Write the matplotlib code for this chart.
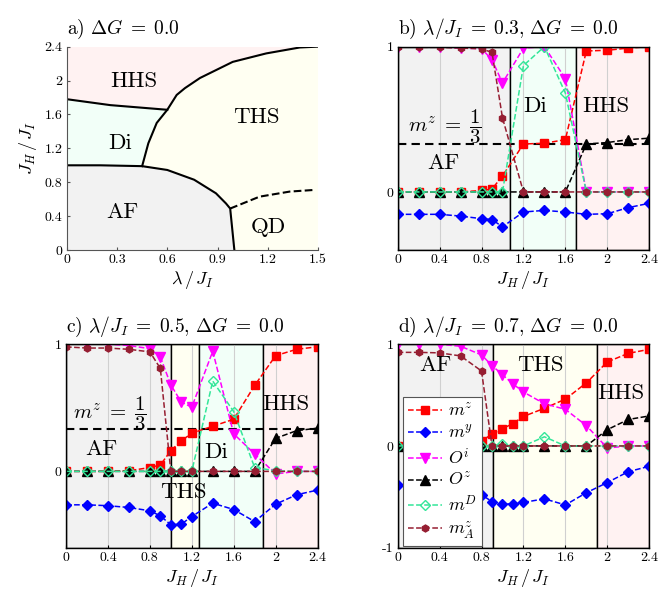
import matplotlib
matplotlib.use("Agg")
import matplotlib.pyplot as plt
import numpy as np

plt.rcParams["font.family"] = "serif"
plt.rcParams["font.serif"] = ["cmr10"]
plt.rcParams["mathtext.fontset"] = "cm"
plt.rcParams["axes.unicode_minus"] = False
plt.rcParams["axes.formatter.use_mathtext"] = True

PHASE_COLORS = {"AF": "#f2f2f2", "Di": "#f2fff8", "THS": "#fffff2", "HHS": "#fff2f2"}

# ---- panel a: phase diagram boundaries (lambda/J_I, J_H/J_I)
af_lam = [0.0, 0.2, 0.45, 0.6, 0.76, 0.89, 0.95, 0.975, 1.0]
af_jh = [1.0, 1.0, 0.99, 0.945, 0.83, 0.67, 0.55, 0.49, 0.0]
ths_lam = [0.45, 0.487, 0.537, 0.6, 0.656, 0.705, 0.795, 0.99, 1.19, 1.39, 1.5]
ths_jh = [0.99, 1.26, 1.50, 1.655, 1.83, 1.91, 2.03, 2.22, 2.32, 2.39, 2.4]
hhs_lam = [0.0, 0.26, 0.6]
hhs_jh = [1.78, 1.71, 1.655]
qd_lam = [0.975, 1.15, 1.33, 1.48]
qd_jh = [0.49, 0.63, 0.69, 0.71]

# ---- panel b: lambda/J_I = 0.3
jh_b = [0, 0.2, 0.4, 0.6, 0.8, 0.9, 1.0, 1.2, 1.4, 1.6, 1.8, 2.0, 2.2, 2.4]
mz_b = [0, 0, 0, 0, 0.01, 0.02, 0.11, 0.33, 0.335, 0.36, 0.97, 0.975, 0.99, 1.0]
my_b = [-0.154, -0.154, -0.154, -0.166, -0.184, -0.19, -0.24, -0.138, -0.127,
        -0.138, -0.154, -0.15, -0.108, -0.078]
oi_b = [1.0, 1.0, 1.0, 0.99, 0.986, 0.91, 0.75, 0.99, 1.0, 0.78, 0, 0, 0, 0]
oz_b = [0, 0, 0, 0, 0, 0, 0, 0, 0, 0, 0.33, 0.34, 0.36, 0.37]
md_b = [0, 0, 0, 0, 0, 0, 0, 0.87, 1.0, 0.68, 0, 0, 0, 0]
mza_b = [1.0, 0.995, 0.995, 0.99, 0.985, 0.96, 0.51, 0, 0, 0, 0, 0, 0, 0]
bounds_b = [0, 1.074, 1.705, 2.4]
phases_b = ["AF", "Di", "HHS"]

# ---- panel c: lambda/J_I = 0.5
jh_c = [0, 0.2, 0.4, 0.6, 0.8, 0.9, 1.0, 1.1, 1.2, 1.4, 1.6, 1.8, 2.0, 2.2, 2.4]
mz_c = [0, 0, 0, 0.005, 0.03, 0.05, 0.163, 0.24, 0.30, 0.355, 0.41, 0.676, 0.91, 0.96, 0.98]
my_c = [-0.263, -0.263, -0.27, -0.284, -0.31, -0.35, -0.42, -0.415, -0.355, -0.25,
        -0.30, -0.395, -0.258, -0.184, -0.147]
oi_c = [1.0, 1.0, 1.0, 0.99, 0.965, 0.9, 0.68, 0.545, 0.505, 0.945, 0.295, 0.137, -0.02, 0, 0]
oz_c = [0, 0, 0, 0, 0, 0, 0, 0, 0, 0, 0, 0, 0.26, 0.32, 0.34]
md_c = [0, 0, 0, 0, 0, 0, 0, 0, 0, 0.71, 0.47, 0.03, 0.005, 0, 0]
mza_c = [0.979, 0.97, 0.97, 0.96, 0.94, 0.81, 0, 0, 0, 0, 0, 0, 0, 0, 0]
bounds_c = [0, 1.0, 1.272, 1.875, 2.4]
phases_c = ["AF", "THS", "Di", "HHS"]

# ---- panel d: lambda/J_I = 0.7
jh_d = [0, 0.2, 0.4, 0.6, 0.8, 0.9, 1.0, 1.1, 1.2, 1.4, 1.6, 1.8, 2.0, 2.2, 2.4]
mz_d = [0, 0, 0, 0, 0.05, 0.115, 0.17, 0.22, 0.29, 0.37, 0.46, 0.62, 0.826, 0.91, 0.95]
my_d = [-0.38, -0.385, -0.39, -0.40, -0.48, -0.547, -0.57, -0.57, -0.555, -0.52,
        -0.58, -0.46, -0.36, -0.253, -0.20]
oi_d = [1.0, 1.0, 1.0, 0.98, 0.895, 0.79, 0.70, 0.61, 0.53, 0.415, 0.36, 0.20, -0.02, 0, 0]
oz_d = [0, 0, 0, 0, 0, 0, 0, 0, 0, 0, 0, 0, 0.16, 0.26, 0.295]
md_d = [0, 0, 0, 0, 0, 0, 0.02, 0, 0, 0.09, 0, 0, 0, 0, 0]
mza_d = [0.92, 0.92, 0.915, 0.885, 0.737, 0, 0, 0, 0, 0, 0, 0, 0, 0, 0]
bounds_d = [0, 0.905, 1.9, 2.4]
phases_d = ["AF", "THS", "HHS"]

labels = [r"$m^z$", r"$m^y$", r"$O^i$", r"$O^z$", r"$m^D$", r"$m^z_A$"]
styles = [
    dict(color="#ff0000", marker="s", ms=5.5, mfc="#ff0000"),
    dict(color="#0000ff", marker="D", ms=5.5, mfc="#0000ff"),
    dict(color="#ff00ff", marker="v", ms=7.5, mfc="#ff00ff"),
    dict(color="#000000", marker="^", ms=6.5, mfc="#000000"),
    dict(color="#33e699", marker="D", ms=5.5, mfc="none", mew=1.0),
    dict(color="#961e32", marker="h", ms=5.0, mfc="#961e32"),
]
PHASE_FS = 16.5


def profile_panel(ax, jh, series, bounds, phases, ylim, yticks, ytlabels, title, third=True):
    for x0, x1, ph in zip(bounds[:-1], bounds[1:], phases):
        ax.axvspan(x0, x1, facecolor=PHASE_COLORS[ph], edgecolor="k", lw=1.0, zorder=0.5)
    ax.grid(axis="x", color="#d0d0d0", lw=0.8)
    if third:
        ax.axhline(1 / 3, color="k", ls="--", lw=1.5, dashes=(4, 2.5), zorder=1.8)
    for vals, lab, st in zip(series, labels, styles):
        ax.plot(jh, vals, ls="--", lw=1.1, label=lab, **st)
    ax.set_xlim(0, 2.4)
    ax.set_ylim(*ylim)
    ax.set_xticks([0, 0.4, 0.8, 1.2, 1.6, 2.0, 2.4], ["0", "0.4", "0.8", "1.2", "1.6", "2", "2.4"])
    ax.set_yticks(yticks, ytlabels)
    ax.tick_params(direction="in", length=2.5, labelsize=10, pad=3)
    for sp in ax.spines.values():
        sp.set_color("k")
        sp.set_linewidth(1.0)
    ax.set_xlabel(r"$J_H\,/\,J_I$", fontsize=13, labelpad=2)
    ax.set_title(title, loc="left", fontsize=14, pad=9)


fig = plt.figure(figsize=(6.62, 5.94), dpi=100)
w, h = 0.38, 0.3425
ax_a = fig.add_axes([0.1007, 0.579, w, h])
ax_b = fig.add_axes([0.6007, 0.579, w, h])
ax_c = fig.add_axes([0.0997, 0.078, w, h])
ax_d = fig.add_axes([0.6007, 0.078, w, h])

# panel a
ax_a.set_facecolor(PHASE_COLORS["THS"])
ax_a.fill(af_lam + [0.0], af_jh + [0.0], color=PHASE_COLORS["AF"], lw=0)
k = ths_lam.index(0.6)
ax_a.fill(af_lam[:3] + ths_lam[1:k + 1] + hhs_lam[::-1],
          af_jh[:3] + ths_jh[1:k + 1] + hhs_jh[::-1], color=PHASE_COLORS["Di"], lw=0)
ax_a.fill(hhs_lam + ths_lam[k + 1:] + [0.0],
          hhs_jh + ths_jh[k + 1:] + [2.4], color=PHASE_COLORS["HHS"], lw=0)
ax_a.plot(af_lam, af_jh, "k-", lw=1.5)
ax_a.plot(ths_lam, ths_jh, "k-", lw=1.5)
ax_a.plot(hhs_lam, hhs_jh, "k-", lw=1.5)
ax_a.plot(qd_lam, qd_jh, "k--", lw=1.5)
ax_a.set_xlim(0, 1.5)
ax_a.set_ylim(0, 2.4)
ax_a.set_xticks([0, 0.3, 0.6, 0.9, 1.2, 1.5], ["0", "0.3", "0.6", "0.9", "1.2", "1.5"])
ax_a.set_yticks([0, 0.4, 0.8, 1.2, 1.6, 2.0, 2.4], ["0", "0.4", "0.8", "1.2", "1.6", "2", "2.4"])
ax_a.tick_params(direction="in", length=2.5, labelsize=10, pad=3, color="#555555")
ax_a.spines["top"].set_visible(False)
ax_a.spines["right"].set_visible(False)
ax_a.spines["left"].set_color("#555555")
ax_a.spines["bottom"].set_color("#555555")
ax_a.set_xlabel(r"$\lambda\,/\,J_I$", fontsize=13, labelpad=2)
ax_a.set_ylabel(r"$J_H\,/\,J_I$", fontsize=13, labelpad=4)
ax_a.set_title(r"a) $\Delta G\;=\;0.0$", loc="left", fontsize=14, pad=9)
for txt, x, y in [("HHS", 0.40, 1.99), ("Di", 0.32, 1.26), ("THS", 1.13, 1.57),
                  ("AF", 0.33, 0.45), ("QD", 1.2, 0.275)]:
    ax_a.text(x, y, txt, fontsize=PHASE_FS, ha="center", va="center")

frac = r"$m^z\;=\;\dfrac{1}{3}$"

# panel b
profile_panel(ax_b, jh_b, [mz_b, my_b, oi_b, oz_b, md_b, mza_b], bounds_b, phases_b,
              (-0.4, 1.0), [0, 1], ["0", "1"], r"b) $\lambda/J_I\;=\;0.3,\,\Delta G\;=\;0.0$")
ax_b.text(0.1, 0.45, frac, fontsize=15, ha="left", va="center")
for txt, x, y in [("AF", 0.44, 0.2), ("Di", 1.31, 0.59), ("HHS", 1.99, 0.59)]:
    ax_b.text(x, y, txt, fontsize=PHASE_FS, ha="center", va="center")

# panel c
profile_panel(ax_c, jh_c, [mz_c, my_c, oi_c, oz_c, md_c, mza_c], bounds_c, phases_c,
              (-0.6, 1.0), [0, 1], ["0", "1"], r"c) $\lambda/J_I\;=\;0.5,\,\Delta G\;=\;0.0$")
ax_c.text(0.07, 0.45, frac, fontsize=15, ha="left", va="center")
for txt, x, y in [("AF", 0.34, 0.176), ("THS", 1.12, -0.166), ("Di", 1.43, 0.15),
                  ("HHS", 2.1, 0.53)]:
    ax_c.text(x, y, txt, fontsize=PHASE_FS, ha="center", va="center")

# panel d
profile_panel(ax_d, jh_d, [mz_d, my_d, oi_d, oz_d, md_d, mza_d], bounds_d, phases_d,
              (-1.0, 1.0), [-1, 0, 1], ["-1", "0", "1"],
              r"d) $\lambda/J_I\;=\;0.7,\,\Delta G\;=\;0.0$", third=False)
for txt, x, y in [("AF", 0.36, 0.79), ("THS", 1.36, 0.79), ("HHS", 2.13, 0.52)]:
    ax_d.text(x, y, txt, fontsize=PHASE_FS, ha="center", va="center")
leg = ax_d.legend(loc="lower left", bbox_to_anchor=(0.02, 0.007), borderaxespad=0,
                  fontsize=13, handlelength=1.9, handletextpad=0.3, labelspacing=0.26,
                  borderpad=0.3, fancybox=False, framealpha=1, edgecolor="#555555")
leg.get_frame().set_linewidth(0.8)

fig.savefig("out.png", dpi=100)
